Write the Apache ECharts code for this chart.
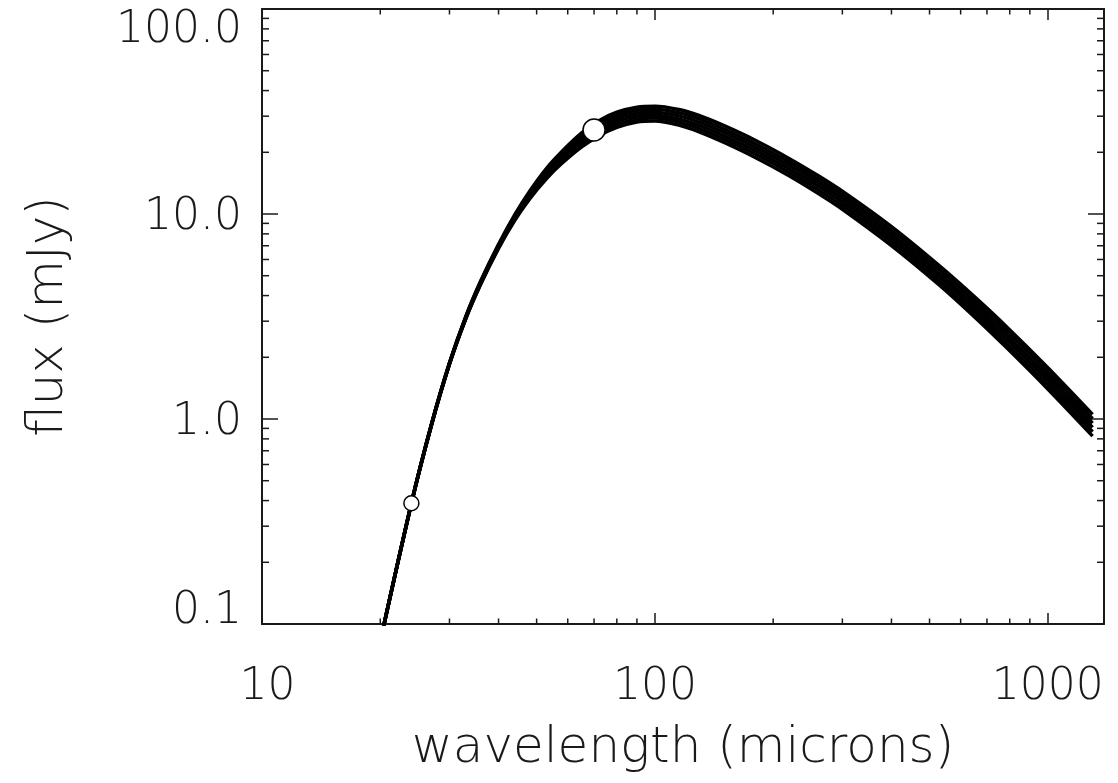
<!DOCTYPE html>
<html>
<head>
<meta charset="utf-8">
<script src="https://cdn.jsdelivr.net/npm/echarts@6/dist/echarts.min.js"></script>
<style>
  html, body { margin: 0; padding: 0; background: #fff; }
  #chart { width: 1118px; height: 783px; }
</style>
</head>
<body>
<div id="chart"></div>
<script>
const wavelengths = [20, 24, 27, 30, 33, 36, 40, 44, 48, 53, 58, 65, 72, 80, 90, 100, 115, 130, 150, 180, 220, 260, 300, 400, 530, 650, 785, 1000, 1300];

// flux (mJy) of the bundle of model curves, top to bottom
const curveA = [0.0826, 0.390, 0.9455, 1.880, 3.160, 4.697, 7.119, 9.932, 12.93, 16.72, 20.19, 24.80, 28.52, 31.35, 33.18, 33.54, 32.31, 30.15, 26.96, 22.89, 18.62, 15.40, 12.91, 8.671, 5.583, 3.955, 2.821, 1.779, 1.053];
const curveB = [0.0825, 0.389, 0.9428, 1.873, 3.143, 4.662, 7.054, 9.805, 12.71, 16.33, 19.66, 24.03, 27.57, 30.30, 32.10, 32.44, 31.20, 29.06, 25.96, 22.02, 17.91, 14.80, 12.40, 8.312, 5.346, 3.780, 2.691, 1.696, 1.003];
const curveC = [0.0824, 0.388, 0.9403, 1.866, 3.126, 4.628, 6.989, 9.680, 12.49, 15.96, 19.14, 23.29, 26.64, 29.29, 31.05, 31.39, 30.12, 28.01, 25.00, 21.18, 17.23, 14.23, 11.91, 7.967, 5.120, 3.614, 2.568, 1.616, 0.955];
const curveD = [0.0824, 0.388, 0.9377, 1.860, 3.108, 4.594, 6.925, 9.555, 12.27, 15.60, 18.64, 22.57, 25.75, 28.30, 30.04, 30.36, 29.09, 27.00, 24.07, 20.38, 16.58, 13.68, 11.44, 7.637, 4.903, 3.454, 2.450, 1.541, 0.910];
const curveE = [0.0823, 0.387, 0.9352, 1.853, 3.091, 4.560, 6.862, 9.433, 12.06, 15.24, 18.15, 21.88, 24.88, 27.35, 29.06, 29.37, 28.09, 26.02, 23.18, 19.61, 15.95, 13.15, 10.98, 7.320, 4.695, 3.302, 2.338, 1.469, 0.866];
const curveF = [0.0822, 0.386, 0.9326, 1.846, 3.074, 4.527, 6.799, 9.312, 11.85, 14.90, 17.67, 21.20, 24.05, 26.44, 28.11, 28.41, 27.12, 25.08, 22.32, 18.87, 15.34, 12.63, 10.55, 7.016, 4.496, 3.156, 2.230, 1.400, 0.825];
const curves = [curveA, curveB, curveC, curveD, curveE, curveF];

// measured photometry points
const obsWavelength = [24, 70];
const obsFlux = [0.388, 25.7];
const obsSize = [15, 22];

// tick positions
const xMajor = [10, 100, 1000];
const xMinor = [20, 30, 40, 50, 60, 70, 80, 90, 200, 300, 400, 500, 600, 700, 800, 900];
const yMinor = [0.2, 0.3, 0.4, 0.5, 0.6, 0.7, 0.8, 0.9, 2, 3, 4, 5, 6, 7, 8, 9, 20, 30, 40, 50, 60, 70, 80, 90];

const X_MIN = 10, X_MAX = 1390, Y_MIN = 0.1, Y_MAX = 100;
const FONT = 'DejaVu Sans';
const INK = '#1a1a1a';

const chart = echarts.init(document.getElementById('chart'), null, { renderer: 'canvas' });

const lineSeries = curves.map(c => ({
  type: 'line',
  data: wavelengths.map((w, i) => [w, c[i]]),
  showSymbol: false,
  smooth: 0.3,
  lineStyle: { color: '#000', width: 3.5 },
  silent: true,
  z: 2
}));

function minorTicks(axis) {
  return {
    type: 'custom',
    silent: true,
    clip: false,
    z: 5,
    data: axis === 'x' ? xMinor.map(v => [v, 1]) : yMinor.map(v => [100, v]),
    renderItem: (params, api) => {
      const cs = params.coordSys;
      const p = api.coord([api.value(0), api.value(1)]);
      const style = { stroke: INK, lineWidth: 1.5 };
      if (axis === 'x') {
        const b = cs.y + cs.height, t = cs.y, L = 5.5;
        return { type: 'group', children: [
          { type: 'line', shape: { x1: p[0], y1: b, x2: p[0], y2: b - L }, style },
          { type: 'line', shape: { x1: p[0], y1: t, x2: p[0], y2: t + L }, style }
        ] };
      }
      const l = cs.x, r = cs.x + cs.width, L = 7;
      return { type: 'group', children: [
        { type: 'line', shape: { x1: l, y1: p[1], x2: l + L, y2: p[1] }, style },
        { type: 'line', shape: { x1: r, y1: p[1], x2: r - L, y2: p[1] }, style }
      ] };
    }
  };
}

const axisLine = { show: true, onZero: false, lineStyle: { color: INK, width: 2 } };
const tickFont = { fontFamily: FONT, fontWeight: 200, fontSize: 44, color: INK };
const titleFont = { fontFamily: FONT, fontWeight: 200, fontSize: 50, color: INK };

chart.setOption({
  backgroundColor: '#fff',
  animation: false,
  grid: { left: 262, right: 14, top: 9, bottom: 159, containLabel: false, outerBoundsMode: 'none' },
  xAxis: [{
    type: 'log', logBase: 10, min: X_MIN, max: X_MAX,
    position: 'bottom',
    axisLine,
    axisTick: { inside: true, length: 11, lineStyle: { color: INK, width: 1.5 } },
    splitLine: { show: false },
    axisLabel: Object.assign({
      margin: 42,
      formatter: v => {
        const t = xMajor.find(m => Math.abs(v - m) < 1e-6 * m);
        if (t === undefined) return '';
        return t === 10 ? '{first|10}' : String(t);
      },
      rich: { first: Object.assign({ padding: [0, 0, 0, 11] }, tickFont) }
    }, tickFont),
    name: 'wavelength (microns)',
    nameLocation: 'middle',
    nameGap: 100,
    nameTextStyle: titleFont
  }, {
    type: 'log', logBase: 10, min: X_MIN, max: X_MAX,
    position: 'top',
    axisLine,
    axisTick: { inside: true, length: 11, lineStyle: { color: INK, width: 1.5 } },
    axisLabel: { show: false },
    splitLine: { show: false }
  }],
  yAxis: [{
    type: 'log', logBase: 10, min: Y_MIN, max: Y_MAX,
    position: 'left',
    axisLine,
    axisTick: { inside: true, length: 16, lineStyle: { color: INK, width: 1.5 } },
    splitLine: { show: false },
    axisLabel: Object.assign({
      margin: 20,
      formatter: v => {
        const s = Number(v).toFixed(1);
        if (s === '100.0') return '{top|100.0}';
        if (s === '0.1') return '{bot|0.1}';
        return '{n|' + s + '}';
      },
      rich: {
        n: Object.assign({ padding: [7, 0, 0, 0] }, tickFont),
        top: Object.assign({ padding: [44, 0, 0, 0] }, tickFont),
        bot: Object.assign({ padding: [0, 0, 24, 0] }, tickFont)
      }
    }, tickFont),
    name: 'flux (mJy)',
    nameLocation: 'middle',
    nameGap: 188,
    nameTextStyle: titleFont
  }, {
    type: 'log', logBase: 10, min: Y_MIN, max: Y_MAX,
    position: 'right',
    axisLine,
    axisTick: { inside: true, length: 16, lineStyle: { color: INK, width: 1.5 } },
    axisLabel: { show: false },
    splitLine: { show: false }
  }],
  series: [
    ...lineSeries,
    {
      type: 'scatter',
      data: obsWavelength.map((w, i) => ({ value: [w, obsFlux[i]], symbolSize: obsSize[i] })),
      symbol: 'circle',
      itemStyle: { color: '#fff', borderColor: '#000', borderWidth: 1.5, opacity: 1 },
      silent: true,
      z: 10
    },
    minorTicks('x'),
    minorTicks('y')
  ]
});
</script>
</body>
</html>
